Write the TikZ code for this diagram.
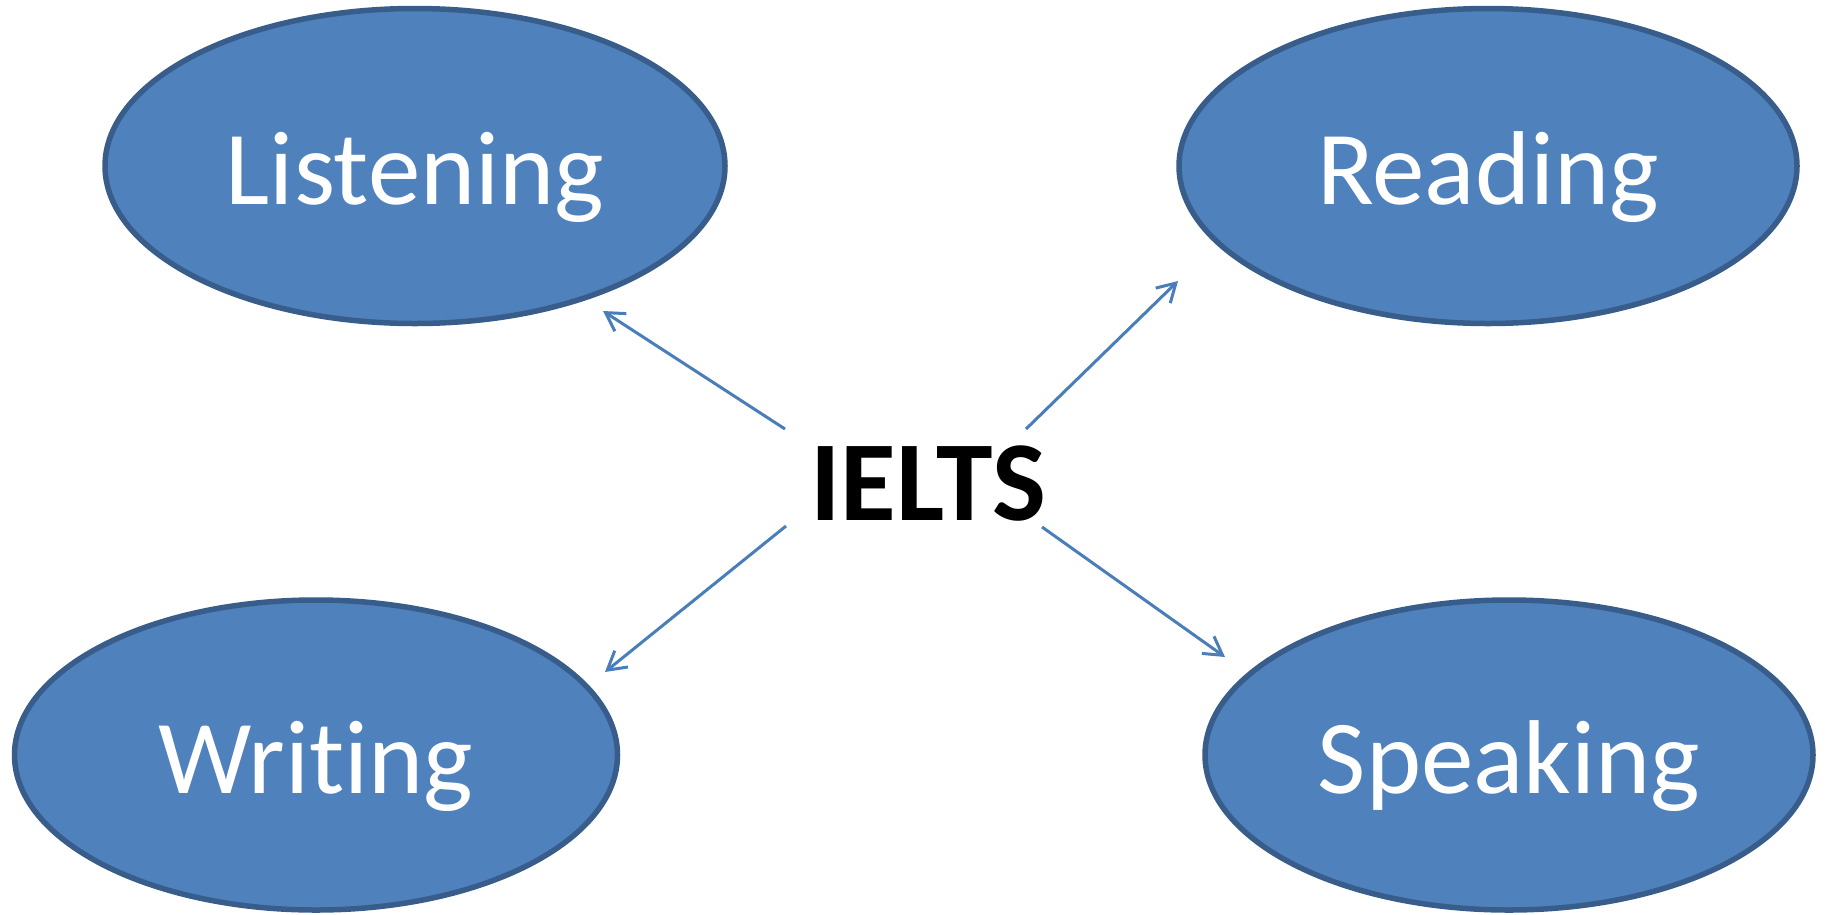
\documentclass[tikz,border=0pt]{standalone}
\usepackage{fontspec}
\setmainfont[Ligatures={NoCommon,NoRare,NoDiscretionary}]{Carlito}
\usetikzlibrary{shapes.geometric,arrows.meta}
\definecolor{skillfill}{HTML}{4F81BD}
\definecolor{skillline}{HTML}{385D8A}
\definecolor{arrowblue}{HTML}{4A7EBB}
\newcommand{\skilltext}[1]{\raisebox{-11pt}[\height][\depth]{#1}}
\tikzset{
  skill/.style={ellipse, draw=skillline, fill=skillfill, line width=5.5pt, inner sep=0pt,
    text=white, font=\fontsize{105}{115}\selectfont},
  link/.style={draw=arrowblue, line width=3pt, -{Straight Barb[length=18pt,width=21pt,line width=3pt]}},
}
\begin{document}
\begin{tikzpicture}[x=1pt,y=-1pt]
\useasboundingbox (0,0) rectangle (1829,914);
\node[skill, minimum width=620pt, minimum height=315pt] (listening) at (415,166) {\skilltext{Listening}};
\node[skill, minimum width=618pt, minimum height=315pt] (reading) at (1488,166) {\skilltext{Reading}};
\node[skill, minimum width=603pt, minimum height=310pt] (writing) at (316,755) {\skilltext{Writing}};
\node[skill, minimum width=608pt, minimum height=310pt] (speaking) at (1509,755) {\skilltext{Speaking}};
\node[font=\fontsize{114}{122}\bfseries\selectfont, inner sep=0pt] (ielts) at (928,484) {IELTS};
\coordinate (lS) at (785,429); \coordinate (lE) at (603,311);
\coordinate (rS) at (1026,429); \coordinate (rE) at (1178,281);
\coordinate (wS) at (786,526); \coordinate (wE) at (605,672);
\coordinate (sS) at (1042,527); \coordinate (sE) at (1225,657);
\draw[link] (lS) -- (lE);
\draw[link] (rS) -- (rE);
\draw[link] (wS) -- (wE);
\draw[link] (sS) -- (sE);
\end{tikzpicture}
\end{document}
